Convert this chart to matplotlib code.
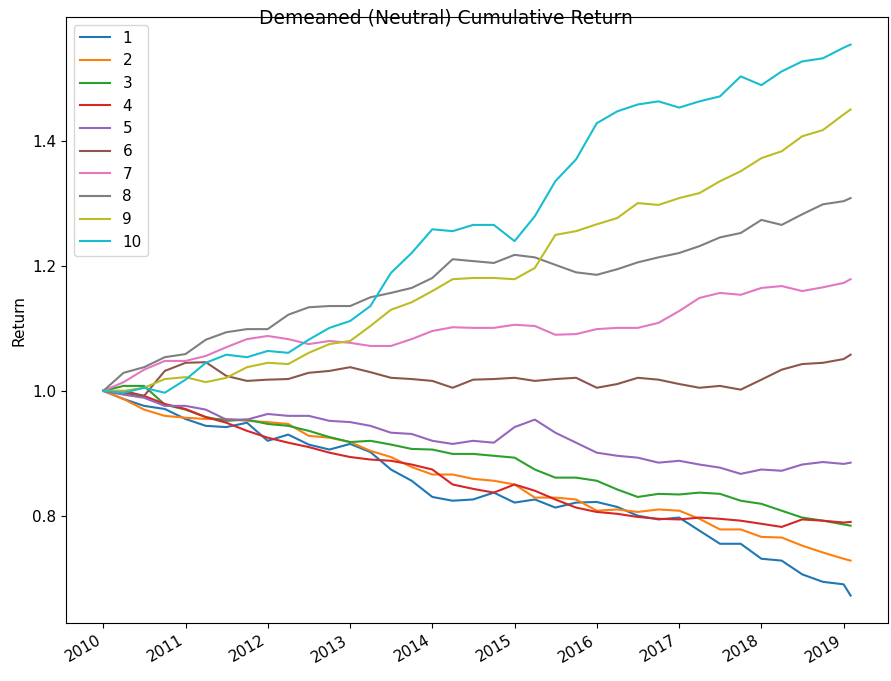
import numpy as np
import pandas as pd
from matplotlib import pyplot as plt

plt.rcParams['font.size'] = 11

# quarter starts 2010-01 .. 2019-01, plus the last day shown
dates = list(pd.date_range('2010-01-01', '2019-01-01', freq='QS')) + [pd.Timestamp('2019-02-01')]

q1 = [1.000, 0.987, 0.976, 0.971, 0.955, 0.944, 0.942, 0.949, 0.920, 0.930,
      0.914, 0.906, 0.915, 0.902, 0.874, 0.856, 0.830, 0.824, 0.826, 0.837,
      0.821, 0.826, 0.813, 0.821, 0.822, 0.814, 0.800, 0.794, 0.797, 0.776,
      0.755, 0.755, 0.731, 0.728, 0.706, 0.694, 0.690, 0.672]
q2 = [1.000, 0.987, 0.970, 0.960, 0.957, 0.955, 0.955, 0.952, 0.950, 0.947,
      0.928, 0.925, 0.918, 0.904, 0.894, 0.878, 0.866, 0.866, 0.859, 0.856,
      0.850, 0.829, 0.829, 0.826, 0.808, 0.810, 0.806, 0.810, 0.808, 0.795,
      0.778, 0.778, 0.766, 0.765, 0.752, 0.741, 0.731, 0.728]
q3 = [1.000, 1.008, 1.008, 0.978, 0.970, 0.958, 0.952, 0.954, 0.947, 0.944,
      0.936, 0.926, 0.918, 0.920, 0.914, 0.907, 0.906, 0.899, 0.899, 0.896,
      0.893, 0.874, 0.861, 0.861, 0.856, 0.842, 0.830, 0.835, 0.834, 0.837,
      0.835, 0.824, 0.819, 0.808, 0.797, 0.792, 0.786, 0.784]
q4 = [1.000, 1.000, 0.992, 0.979, 0.971, 0.958, 0.949, 0.936, 0.925, 0.917,
      0.910, 0.901, 0.894, 0.890, 0.888, 0.882, 0.874, 0.850, 0.843, 0.837,
      0.850, 0.840, 0.826, 0.813, 0.806, 0.803, 0.798, 0.795, 0.794, 0.797,
      0.795, 0.792, 0.787, 0.782, 0.794, 0.792, 0.789, 0.790]
q5 = [1.000, 0.994, 0.989, 0.976, 0.976, 0.970, 0.954, 0.954, 0.963, 0.960,
      0.960, 0.952, 0.950, 0.944, 0.933, 0.931, 0.920, 0.915, 0.920, 0.917,
      0.942, 0.954, 0.933, 0.917, 0.901, 0.896, 0.893, 0.885, 0.888, 0.882,
      0.877, 0.867, 0.874, 0.872, 0.882, 0.886, 0.883, 0.885]
q6 = [1.000, 0.997, 0.992, 1.032, 1.045, 1.046, 1.024, 1.016, 1.018, 1.019,
      1.029, 1.032, 1.038, 1.030, 1.021, 1.019, 1.016, 1.005, 1.018, 1.019,
      1.021, 1.016, 1.019, 1.021, 1.005, 1.011, 1.021, 1.018, 1.011, 1.005,
      1.008, 1.002, 1.018, 1.034, 1.043, 1.045, 1.051, 1.058]
q7 = [1.000, 1.014, 1.034, 1.048, 1.048, 1.056, 1.070, 1.083, 1.088, 1.083,
      1.075, 1.080, 1.077, 1.072, 1.072, 1.083, 1.096, 1.102, 1.101, 1.101,
      1.106, 1.104, 1.090, 1.091, 1.099, 1.101, 1.101, 1.109, 1.128, 1.149,
      1.157, 1.154, 1.165, 1.168, 1.160, 1.166, 1.173, 1.179]
q8 = [1.000, 1.029, 1.038, 1.054, 1.059, 1.082, 1.094, 1.099, 1.099, 1.122,
      1.134, 1.136, 1.136, 1.150, 1.157, 1.165, 1.181, 1.211, 1.208, 1.205,
      1.218, 1.214, 1.202, 1.190, 1.186, 1.195, 1.206, 1.214, 1.221, 1.232,
      1.246, 1.253, 1.274, 1.266, 1.283, 1.299, 1.304, 1.309]
q9 = [1.000, 1.000, 1.005, 1.019, 1.022, 1.014, 1.021, 1.038, 1.045, 1.043,
      1.061, 1.075, 1.080, 1.104, 1.130, 1.142, 1.160, 1.179, 1.181, 1.181,
      1.179, 1.197, 1.250, 1.256, 1.267, 1.277, 1.301, 1.298, 1.309, 1.317,
      1.336, 1.352, 1.373, 1.384, 1.408, 1.418, 1.443, 1.451]
q10 = [1.000, 0.997, 1.005, 0.997, 1.018, 1.045, 1.058, 1.054, 1.064, 1.061,
       1.082, 1.101, 1.112, 1.136, 1.189, 1.221, 1.259, 1.256, 1.266, 1.266,
       1.240, 1.280, 1.336, 1.371, 1.429, 1.448, 1.459, 1.464, 1.454, 1.464,
       1.472, 1.504, 1.490, 1.512, 1.528, 1.533, 1.550, 1.555]

series = [q1, q2, q3, q4, q5, q6, q7, q8, q9, q10]
labels = ['1', '2', '3', '4', '5', '6', '7', '8', '9', '10']

fig = plt.figure(figsize=(8.91, 6.81), dpi=100)
ax = fig.add_axes([0.074, 0.085, 0.9226, 0.89])

for s, lab in zip(series, labels):
    ax.plot(dates, s, label=lab, linewidth=1.5)

ax.set_ylabel('Return')
ax.set_yticks([0.8, 1.0, 1.2, 1.4])
ax.legend(loc='upper left')
for lbl in ax.get_xticklabels():
    lbl.set_rotation(30)
    lbl.set_ha('right')

fig.suptitle('Demeaned (Neutral) Cumulative Return', y=0.974, va='center', fontsize=13.5)

fig.savefig('out.png', dpi=100)
